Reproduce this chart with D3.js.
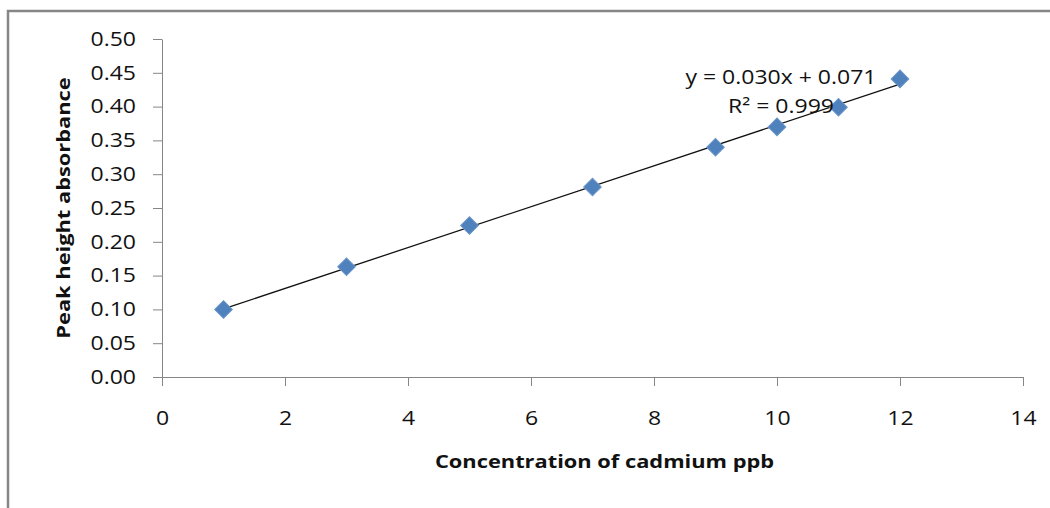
<!DOCTYPE html>
<html>
<head>
<meta charset="utf-8">
<script src="https://cdn.jsdelivr.net/npm/d3@7/dist/d3.min.js"></script>
<style>
  body { margin: 0; background: #fff; }
  svg text { font-family: "Open Sans", "Liberation Sans", sans-serif; fill: #111; }
</style>
</head>
<body>
<div id="chart"></div>
<script>
// calibration data: cadmium concentration (ppb) vs peak height absorbance
const concentration = [1, 3, 5, 7, 9, 10, 11, 12];
const absorbance = [0.100, 0.163, 0.224, 0.281, 0.340, 0.370, 0.399, 0.441];
const xTicks = [0, 2, 4, 6, 8, 10, 12, 14];
const yTicks = [0, 0.05, 0.10, 0.15, 0.20, 0.25, 0.30, 0.35, 0.40, 0.45, 0.50];
const equationLines = ["y = 0.030x + 0.071", "R\u00b2 = 0.999"];

const W = 1050, H = 508;
const sx = 1.18; // text in the picture is horizontally stretched
const axisColor = "#868686";

const svg = d3.select("#chart").append("svg")
    .attr("width", W).attr("height", H);

// chart frame (only top and left edges visible)
svg.append("path")
    .attr("d", `M8,${H} L8,11 L${W},11`)
    .attr("fill", "none")
    .attr("stroke", axisColor)
    .attr("stroke-width", 2.5);

const x = d3.scaleLinear().domain([0, 14]).range([162, 1023]);
const y = d3.scaleLinear().domain([0, 0.5]).range([377, 39]);

// y axis
const gy = svg.append("g")
    .attr("transform", `translate(${x(0)},0)`)
    .call(d3.axisLeft(y).tickValues(yTicks).tickFormat(d3.format(".2f"))
        .tickSizeInner(9).tickSizeOuter(0).tickPadding(17));
gy.select(".domain").attr("stroke", axisColor);
gy.selectAll(".tick line").attr("stroke", axisColor);
gy.selectAll(".tick text")
    .attr("font-size", 19.5)
    .attr("fill", "#111")
    .attr("x", -26 / sx)
    .attr("transform", `scale(${sx},1)`);

// x axis
const gx = svg.append("g")
    .attr("transform", `translate(0,${y(0)})`)
    .call(d3.axisBottom(x).tickValues(xTicks).tickFormat(d3.format("d"))
        .tickSizeInner(9).tickSizeOuter(0).tickPadding(25));
gx.select(".domain").attr("stroke", axisColor);
gx.selectAll(".tick line").attr("stroke", axisColor);
gx.selectAll(".tick text")
    .attr("font-size", 19.5)
    .attr("fill", "#111")
    .attr("transform", `scale(${sx},1)`);

// least squares trendline over the data range
const mx = d3.mean(concentration), my = d3.mean(absorbance);
const slope = d3.sum(concentration, (c, i) => (c - mx) * (absorbance[i] - my)) /
    d3.sum(concentration, c => (c - mx) * (c - mx));
const intercept = my - slope * mx;
const xr = d3.extent(concentration);
svg.append("line")
    .attr("x1", x(xr[0])).attr("y1", y(slope * xr[0] + intercept))
    .attr("x2", x(xr[1])).attr("y2", y(slope * xr[1] + intercept))
    .attr("stroke", "#111")
    .attr("stroke-width", 1.3);

// diamond markers
const diamond = d3.symbol().type(d3.symbolSquare).size(155);
svg.append("g").selectAll("path")
    .data(concentration)
    .join("path")
    .attr("d", diamond)
    .attr("transform", (c, i) => `translate(${x(c)},${y(absorbance[i])}) rotate(45)`)
    .attr("fill", "#4F81BD")
    .attr("stroke", "#6b95c8")
    .attr("stroke-width", 1);

// trendline equation
svg.append("g").selectAll("text")
    .data(equationLines)
    .join("text")
    .attr("transform", (d, i) => `translate(781,${84 + i * 29}) scale(${sx},1)`)
    .attr("text-anchor", "middle")
    .attr("font-size", 19.5)
    .text(d => d);

// axis titles
svg.append("text")
    .attr("transform", `translate(${(x(0) + x(14)) / 2 + 12},468) scale(${sx},1)`)
    .attr("text-anchor", "middle")
    .attr("font-size", 18.5)
    .attr("font-weight", "bold")
    .text("Concentration of cadmium ppb");

svg.append("text")
    .attr("transform", `translate(70,${(y(0) + y(0.5)) / 2}) rotate(-90) scale(${sx},1)`)
    .attr("text-anchor", "middle")
    .attr("font-size", 18.5)
    .attr("font-weight", "bold")
    .text("Peak height absorbance");
</script>
</body>
</html>
